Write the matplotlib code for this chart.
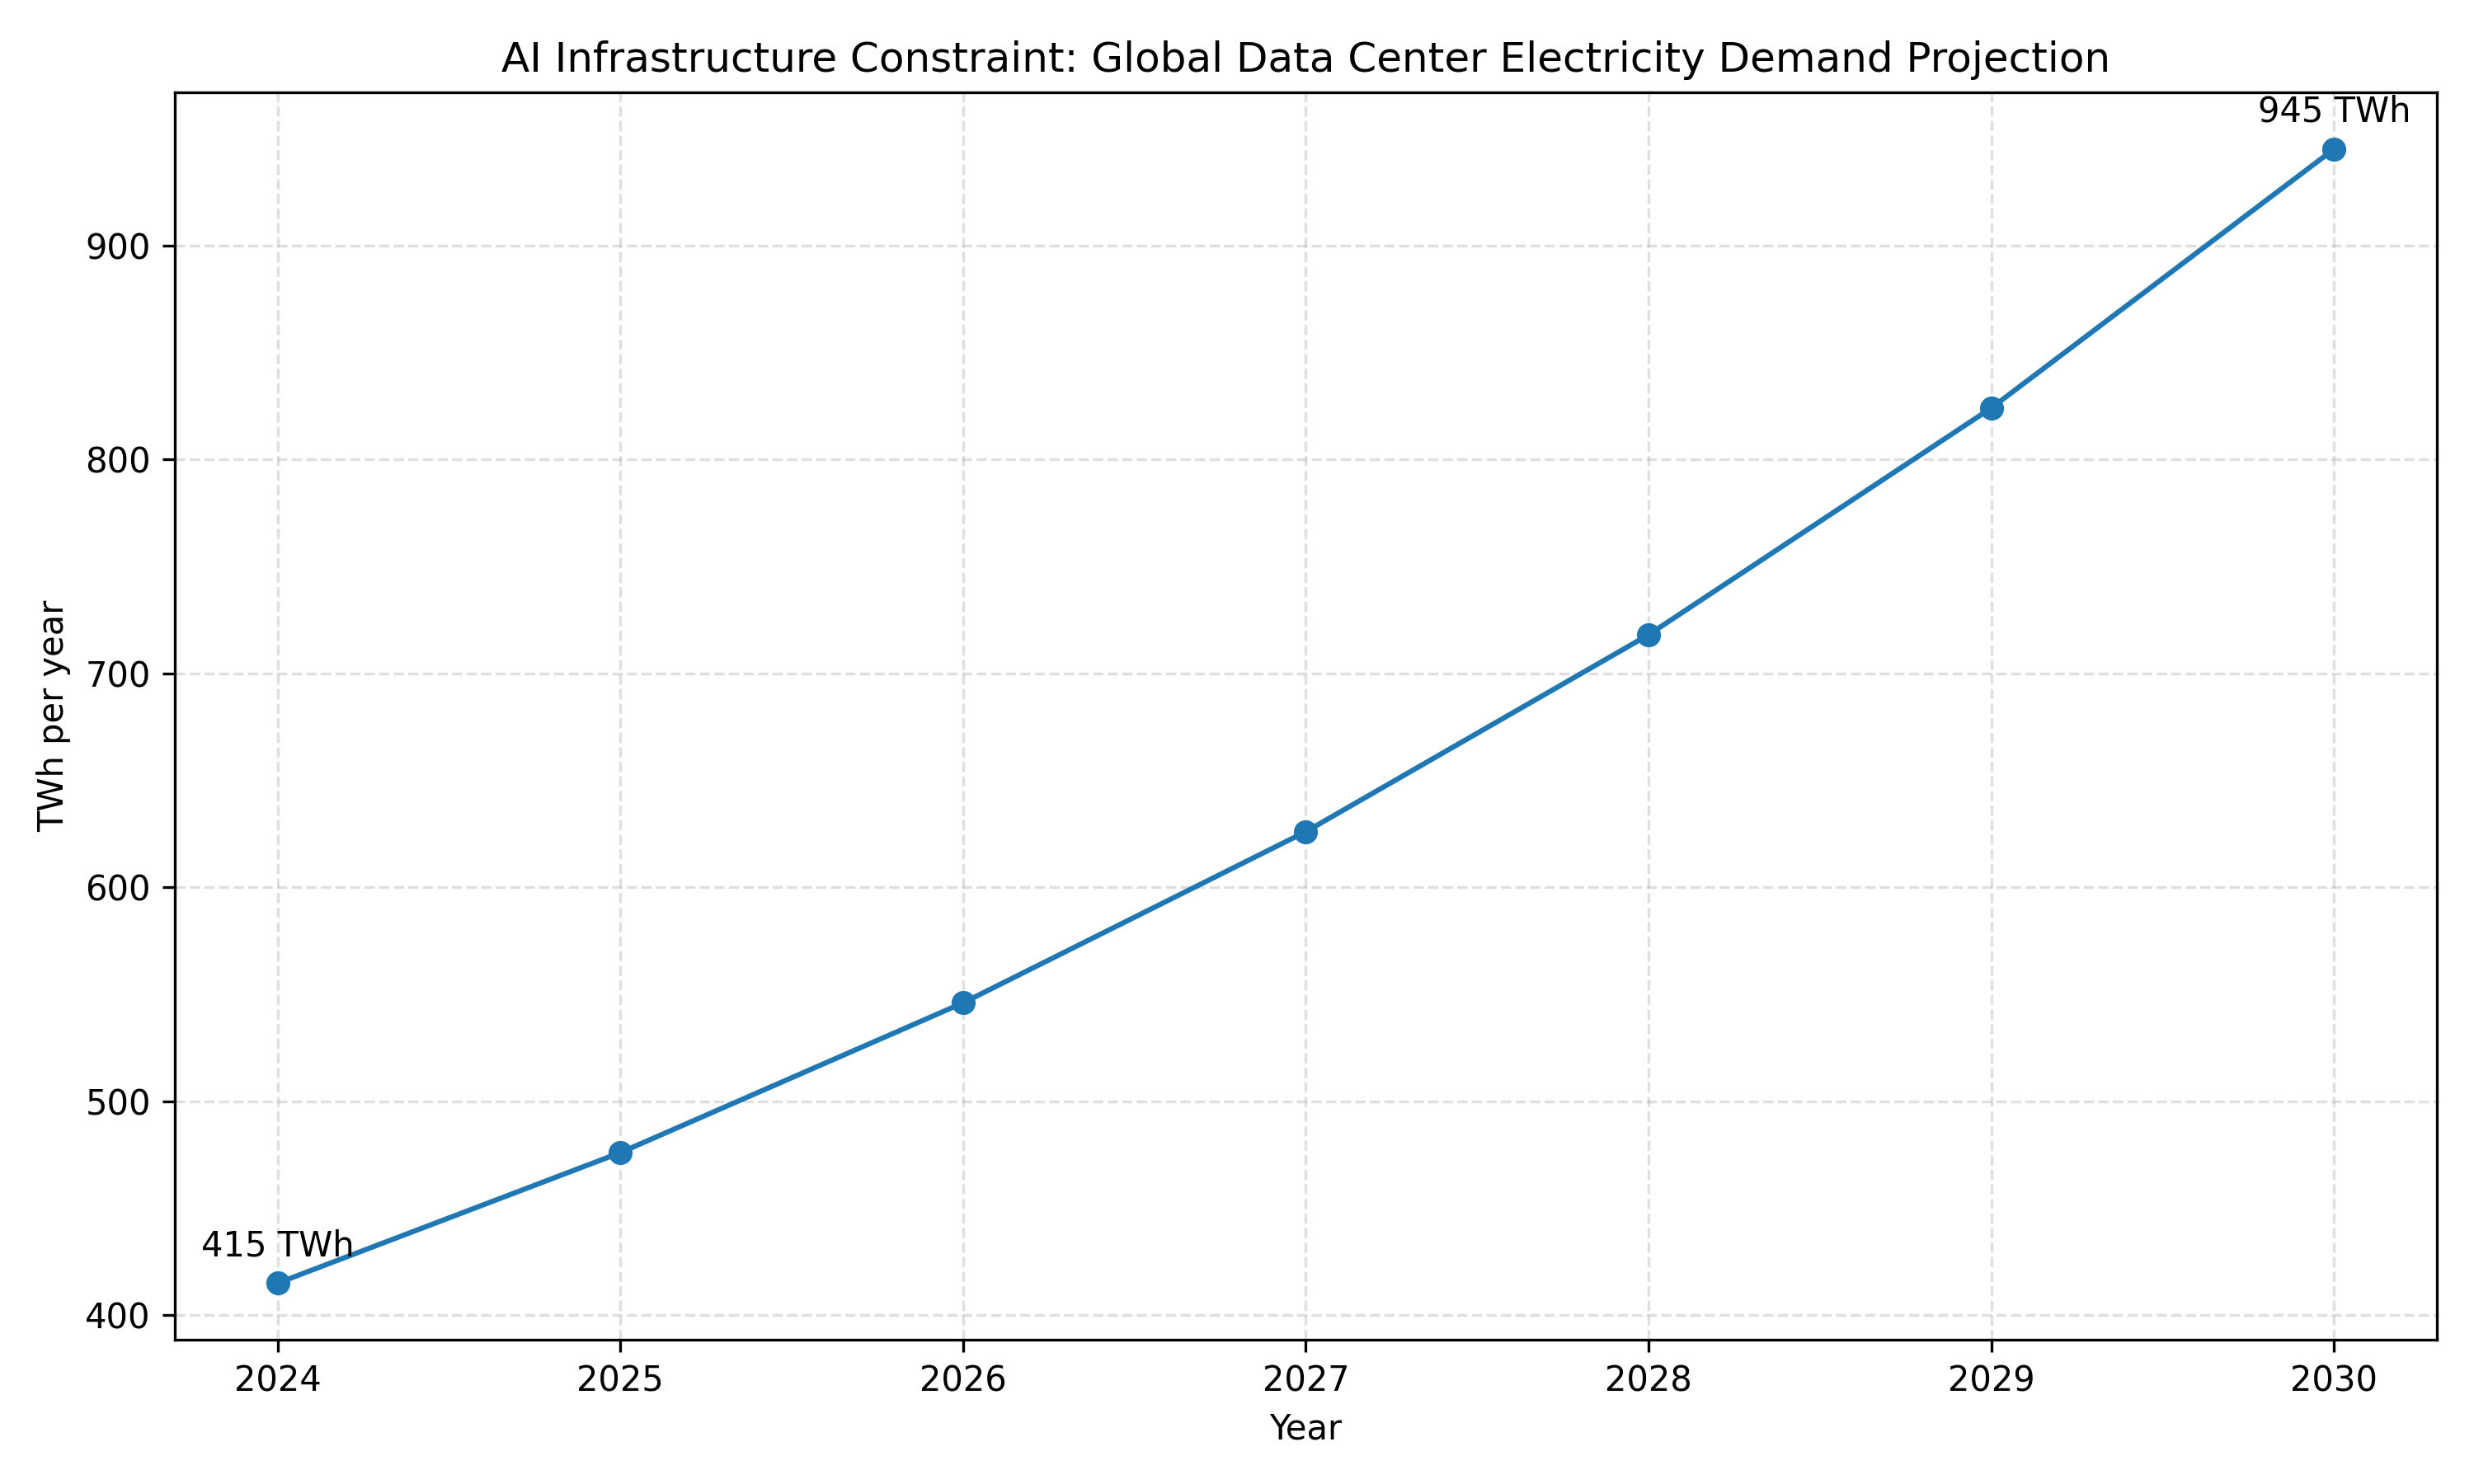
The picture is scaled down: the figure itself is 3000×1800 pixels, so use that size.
import matplotlib
matplotlib.use("Agg")
import matplotlib.pyplot as plt

years = [2024, 2025, 2026, 2027, 2028, 2029, 2030]
demand_twh = [415, 476, 546, 626, 718, 824, 945]

fig, ax = plt.subplots(figsize=(10, 6))
ax.plot(years, demand_twh, marker="o", color="#1f77b4", linewidth=1.5)

# label first and last point
for i in (0, len(years) - 1):
    ax.annotate(f"{demand_twh[i]} TWh", (years[i], demand_twh[i]),
                textcoords="offset points", xytext=(0, 8), ha="center")

ax.set_title("AI Infrastructure Constraint: Global Data Center Electricity Demand Projection")
ax.set_xlabel("Year")
ax.set_ylabel("TWh per year")
ax.set_xticks(years)
ax.grid(True, linestyle="--", alpha=0.4)

plt.tight_layout()
plt.savefig("out.png", dpi=300)
